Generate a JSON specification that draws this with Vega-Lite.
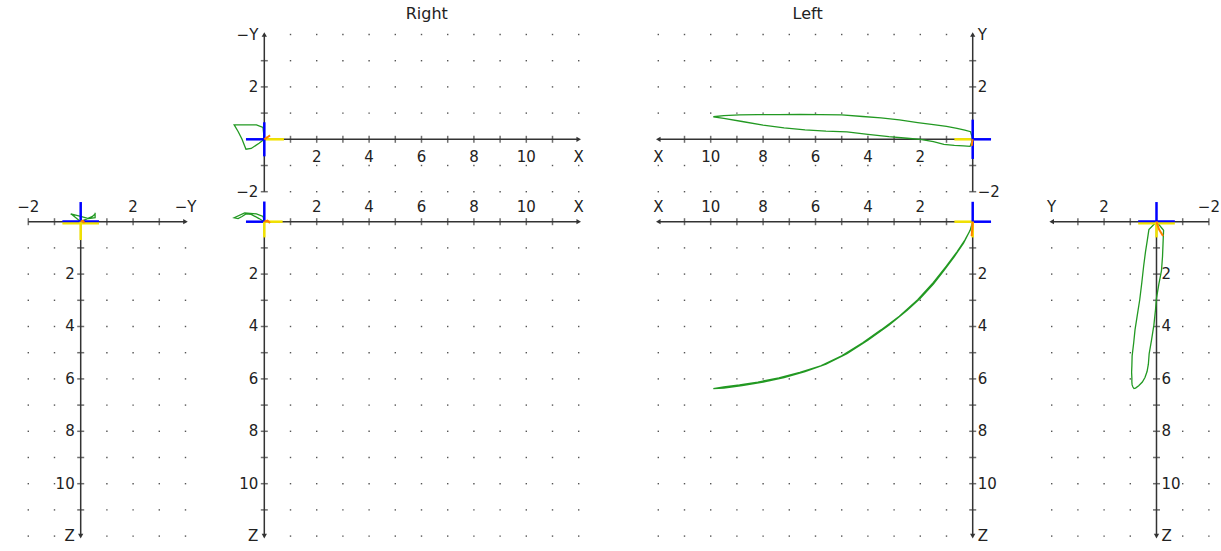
{
  "$schema": "https://vega.github.io/schema/vega-lite/v6.json",
  "width": 1221,
  "height": 551,
  "autosize": {"type": "none"},
  "padding": 0,
  "background": "white",
  "config": {
    "view": {"stroke": null},
    "axis": {"disable": true},
    "text": {"font": "DejaVu Sans", "fontSize": 15, "fill": "#222", "baseline": "middle"},
    "rule": {"color": "#333", "strokeWidth": 1.5},
    "tick": {"color": "#333", "thickness": 1.5, "size": 7},
    "square": {"size": 2, "color": "#555", "opacity": 1},
    "line": {"strokeWidth": 1.3}
  },
  "datasets": {
    "t12": [{"t":1},{"t":2},{"t":3},{"t":4},{"t":5},{"t":6},{"t":7},{"t":8},{"t":9},{"t":10},{"t":11}],
    "l12": [{"t":2},{"t":4},{"t":6},{"t":8},{"t":10}],
    "tS": [{"t":-2},{"t":-1},{"t":1},{"t":2},{"t":3}],
    "lS": [{"t":-2},{"t":2}],
    "left": [
      {"i":0,"x":0,"y":0,"z":0},
      {"i":1,"x":0.08,"y":0.29,"z":0.3},
      {"i":2,"x":0.3,"y":0.35,"z":0.7},
      {"i":3,"x":0.6,"y":0.42,"z":1.15},
      {"i":4,"x":1.0,"y":0.49,"z":1.69},
      {"i":5,"x":1.5,"y":0.56,"z":2.32},
      {"i":6,"x":2.1,"y":0.64,"z":2.98},
      {"i":7,"x":2.8,"y":0.74,"z":3.61},
      {"i":8,"x":3.5,"y":0.82,"z":4.13},
      {"i":9,"x":4.2,"y":0.87,"z":4.62},
      {"i":10,"x":5.0,"y":0.93,"z":5.12},
      {"i":11,"x":5.8,"y":0.94,"z":5.5},
      {"i":12,"x":6.6,"y":0.95,"z":5.75},
      {"i":13,"x":7.4,"y":0.94,"z":5.96},
      {"i":14,"x":8.2,"y":0.94,"z":6.12},
      {"i":15,"x":8.9,"y":0.93,"z":6.23},
      {"i":16,"x":9.5,"y":0.9,"z":6.31},
      {"i":17,"x":9.9,"y":0.86,"z":6.37},
      {"i":18,"x":9.5,"y":0.8,"z":6.35},
      {"i":19,"x":8.8,"y":0.68,"z":6.26},
      {"i":20,"x":8.0,"y":0.54,"z":6.12},
      {"i":21,"x":7.2,"y":0.44,"z":5.95},
      {"i":22,"x":6.4,"y":0.36,"z":5.72},
      {"i":23,"x":5.6,"y":0.31,"z":5.44},
      {"i":24,"x":4.8,"y":0.28,"z":5.04},
      {"i":25,"x":4.0,"y":0.19,"z":4.52},
      {"i":26,"x":3.2,"y":0.1,"z":3.95},
      {"i":27,"x":2.5,"y":0.04,"z":3.38},
      {"i":28,"x":2.0,"y":0.0,"z":2.92},
      {"i":29,"x":1.5,"y":-0.09,"z":2.38},
      {"i":30,"x":1.1,"y":-0.19,"z":1.87},
      {"i":31,"x":0.7,"y":-0.23,"z":1.33},
      {"i":32,"x":0.35,"y":-0.25,"z":0.82},
      {"i":33,"x":0.1,"y":-0.27,"z":0.33},
      {"i":34,"x":0,"y":0,"z":0}
    ],
    "leftT": [
      {"i":0,"x":0,"y":0,"z":0},
      {"i":1,"x":0.02,"y":-0.1,"z":0.3},
      {"i":2,"x":0.04,"y":-0.25,"z":0.55}
    ],
    "right": [
      {"i":0,"x":0,"my":0,"z":0},
      {"i":1,"x":-0.05,"my":0.45,"z":-0.2},
      {"i":2,"x":-0.3,"my":0.55,"z":-0.3},
      {"i":3,"x":-0.75,"my":0.55,"z":-0.34},
      {"i":4,"x":-1.15,"my":0.55,"z":-0.15},
      {"i":5,"x":-1.0,"my":0.3,"z":-0.12},
      {"i":6,"x":-0.85,"my":0.0,"z":-0.2},
      {"i":7,"x":-0.7,"my":-0.38,"z":-0.3},
      {"i":8,"x":-0.5,"my":-0.35,"z":-0.28},
      {"i":9,"x":-0.2,"my":-0.15,"z":-0.12},
      {"i":10,"x":0,"my":0,"z":0}
    ],
    "rightT": [
      {"i":0,"x":0,"my":0,"z":0},
      {"i":1,"x":0.12,"my":0.08,"z":-0.04},
      {"i":2,"x":0.22,"my":0.15,"z":0.05}
    ],
    "gridXY": [
      {"x":1,"y":-2},{"x":1,"y":-1},{"x":1,"y":1},{"x":1,"y":2},{"x":1,"y":3},{"x":1,"y":4},
      {"x":2,"y":-2},{"x":2,"y":-1},{"x":2,"y":1},{"x":2,"y":2},{"x":2,"y":3},{"x":2,"y":4},
      {"x":3,"y":-2},{"x":3,"y":-1},{"x":3,"y":1},{"x":3,"y":2},{"x":3,"y":3},{"x":3,"y":4},
      {"x":4,"y":-2},{"x":4,"y":-1},{"x":4,"y":1},{"x":4,"y":2},{"x":4,"y":3},{"x":4,"y":4},
      {"x":5,"y":-2},{"x":5,"y":-1},{"x":5,"y":1},{"x":5,"y":2},{"x":5,"y":3},{"x":5,"y":4},
      {"x":6,"y":-2},{"x":6,"y":-1},{"x":6,"y":1},{"x":6,"y":2},{"x":6,"y":3},{"x":6,"y":4},
      {"x":7,"y":-2},{"x":7,"y":-1},{"x":7,"y":1},{"x":7,"y":2},{"x":7,"y":3},{"x":7,"y":4},
      {"x":8,"y":-2},{"x":8,"y":-1},{"x":8,"y":1},{"x":8,"y":2},{"x":8,"y":3},{"x":8,"y":4},
      {"x":9,"y":-2},{"x":9,"y":-1},{"x":9,"y":1},{"x":9,"y":2},{"x":9,"y":3},{"x":9,"y":4},
      {"x":10,"y":-2},{"x":10,"y":-1},{"x":10,"y":1},{"x":10,"y":2},{"x":10,"y":3},{"x":10,"y":4},
      {"x":11,"y":-2},{"x":11,"y":-1},{"x":11,"y":1},{"x":11,"y":2},{"x":11,"y":3},{"x":11,"y":4},
      {"x":12,"y":-2},{"x":12,"y":-1},{"x":12,"y":1},{"x":12,"y":2},{"x":12,"y":3},{"x":12,"y":4}
    ],
    "gridYZ": [
      {"a":-2,"z":1},{"a":-2,"z":2},{"a":-2,"z":3},{"a":-2,"z":4},{"a":-2,"z":5},{"a":-2,"z":6},{"a":-2,"z":7},{"a":-2,"z":8},{"a":-2,"z":9},{"a":-2,"z":10},{"a":-2,"z":11},{"a":-2,"z":12},
      {"a":-1,"z":1},{"a":-1,"z":2},{"a":-1,"z":3},{"a":-1,"z":4},{"a":-1,"z":5},{"a":-1,"z":6},{"a":-1,"z":7},{"a":-1,"z":8},{"a":-1,"z":9},{"a":-1,"z":10},{"a":-1,"z":11},{"a":-1,"z":12},
      {"a":1,"z":1},{"a":1,"z":2},{"a":1,"z":3},{"a":1,"z":4},{"a":1,"z":5},{"a":1,"z":6},{"a":1,"z":7},{"a":1,"z":8},{"a":1,"z":9},{"a":1,"z":10},{"a":1,"z":11},{"a":1,"z":12},
      {"a":2,"z":1},{"a":2,"z":2},{"a":2,"z":3},{"a":2,"z":4},{"a":2,"z":5},{"a":2,"z":6},{"a":2,"z":7},{"a":2,"z":8},{"a":2,"z":9},{"a":2,"z":10},{"a":2,"z":11},{"a":2,"z":12},
      {"a":3,"z":1},{"a":3,"z":2},{"a":3,"z":3},{"a":3,"z":4},{"a":3,"z":5},{"a":3,"z":6},{"a":3,"z":7},{"a":3,"z":8},{"a":3,"z":9},{"a":3,"z":10},{"a":3,"z":11},{"a":3,"z":12},
      {"a":4,"z":1},{"a":4,"z":2},{"a":4,"z":3},{"a":4,"z":4},{"a":4,"z":5},{"a":4,"z":6},{"a":4,"z":7},{"a":4,"z":8},{"a":4,"z":9},{"a":4,"z":10},{"a":4,"z":11},{"a":4,"z":12}
    ],
    "gridXZ": [
      {"x":1,"z":1},{"x":1,"z":2},{"x":1,"z":3},{"x":1,"z":4},{"x":1,"z":5},{"x":1,"z":6},{"x":1,"z":7},{"x":1,"z":8},{"x":1,"z":9},{"x":1,"z":10},{"x":1,"z":11},{"x":1,"z":12},
      {"x":2,"z":1},{"x":2,"z":2},{"x":2,"z":3},{"x":2,"z":4},{"x":2,"z":5},{"x":2,"z":6},{"x":2,"z":7},{"x":2,"z":8},{"x":2,"z":9},{"x":2,"z":10},{"x":2,"z":11},{"x":2,"z":12},
      {"x":3,"z":1},{"x":3,"z":2},{"x":3,"z":3},{"x":3,"z":4},{"x":3,"z":5},{"x":3,"z":6},{"x":3,"z":7},{"x":3,"z":8},{"x":3,"z":9},{"x":3,"z":10},{"x":3,"z":11},{"x":3,"z":12},
      {"x":4,"z":1},{"x":4,"z":2},{"x":4,"z":3},{"x":4,"z":4},{"x":4,"z":5},{"x":4,"z":6},{"x":4,"z":7},{"x":4,"z":8},{"x":4,"z":9},{"x":4,"z":10},{"x":4,"z":11},{"x":4,"z":12},
      {"x":5,"z":1},{"x":5,"z":2},{"x":5,"z":3},{"x":5,"z":4},{"x":5,"z":5},{"x":5,"z":6},{"x":5,"z":7},{"x":5,"z":8},{"x":5,"z":9},{"x":5,"z":10},{"x":5,"z":11},{"x":5,"z":12},
      {"x":6,"z":1},{"x":6,"z":2},{"x":6,"z":3},{"x":6,"z":4},{"x":6,"z":5},{"x":6,"z":6},{"x":6,"z":7},{"x":6,"z":8},{"x":6,"z":9},{"x":6,"z":10},{"x":6,"z":11},{"x":6,"z":12},
      {"x":7,"z":1},{"x":7,"z":2},{"x":7,"z":3},{"x":7,"z":4},{"x":7,"z":5},{"x":7,"z":6},{"x":7,"z":7},{"x":7,"z":8},{"x":7,"z":9},{"x":7,"z":10},{"x":7,"z":11},{"x":7,"z":12},
      {"x":8,"z":1},{"x":8,"z":2},{"x":8,"z":3},{"x":8,"z":4},{"x":8,"z":5},{"x":8,"z":6},{"x":8,"z":7},{"x":8,"z":8},{"x":8,"z":9},{"x":8,"z":10},{"x":8,"z":11},{"x":8,"z":12},
      {"x":9,"z":1},{"x":9,"z":2},{"x":9,"z":3},{"x":9,"z":4},{"x":9,"z":5},{"x":9,"z":6},{"x":9,"z":7},{"x":9,"z":8},{"x":9,"z":9},{"x":9,"z":10},{"x":9,"z":11},{"x":9,"z":12},
      {"x":10,"z":1},{"x":10,"z":2},{"x":10,"z":3},{"x":10,"z":4},{"x":10,"z":5},{"x":10,"z":6},{"x":10,"z":7},{"x":10,"z":8},{"x":10,"z":9},{"x":10,"z":10},{"x":10,"z":11},{"x":10,"z":12},
      {"x":11,"z":1},{"x":11,"z":2},{"x":11,"z":3},{"x":11,"z":4},{"x":11,"z":5},{"x":11,"z":6},{"x":11,"z":7},{"x":11,"z":8},{"x":11,"z":9},{"x":11,"z":10},{"x":11,"z":11},{"x":11,"z":12},
      {"x":12,"z":1},{"x":12,"z":2},{"x":12,"z":3},{"x":12,"z":4},{"x":12,"z":5},{"x":12,"z":6},{"x":12,"z":7},{"x":12,"z":8},{"x":12,"z":9},{"x":12,"z":10},{"x":12,"z":11},{"x":12,"z":12}
    ]
  },
  "data": {"values": [{}]},
  "resolve": {"scale": {"x": "independent", "y": "independent"}},
  "layer": [
    {
      "layer": [
        {"data": {"name": "gridYZ"}, "mark": {"type": "square"},
         "encoding": {"x": {"field": "a", "type": "quantitative", "scale": {"domain": [-3.08, 43.523], "nice": false, "zero": false}},
                      "y": {"field": "z", "type": "quantitative", "scale": {"domain": [-8.462, 12.569], "reverse": true, "nice": false, "zero": false}}}},
        {"mark": "rule",
         "encoding": {"x": {"datum": -2, "type": "quantitative", "scale": {"domain": [-3.08, 43.523], "nice": false, "zero": false}}, "x2": {"datum": 4},
                      "y": {"datum": 0, "type": "quantitative", "scale": {"domain": [-8.462, 12.569], "reverse": true, "nice": false, "zero": false}}}},
        {"mark": "rule",
         "encoding": {"x": {"datum": 0, "type": "quantitative", "scale": {"domain": [-3.08, 43.523], "nice": false, "zero": false}},
                      "y": {"datum": 0, "type": "quantitative", "scale": {"domain": [-8.462, 12.569], "reverse": true, "nice": false, "zero": false}}, "y2": {"datum": 12}}},
        {"data": {"name": "tS"}, "mark": {"type": "tick", "orient": "vertical"},
         "encoding": {"x": {"field": "t", "type": "quantitative", "scale": {"domain": [-3.08, 43.523], "nice": false, "zero": false}},
                      "y": {"datum": 0, "type": "quantitative", "scale": {"domain": [-8.462, 12.569], "reverse": true, "nice": false, "zero": false}}}},
        {"data": {"name": "t12"}, "mark": {"type": "tick", "orient": "horizontal"},
         "encoding": {"x": {"datum": 0, "type": "quantitative", "scale": {"domain": [-3.08, 43.523], "nice": false, "zero": false}},
                      "y": {"field": "t", "type": "quantitative", "scale": {"domain": [-8.462, 12.569], "reverse": true, "nice": false, "zero": false}}}},
        {"data": {"name": "lS"}, "mark": {"type": "text", "dy": -15},
         "encoding": {"x": {"field": "t", "type": "quantitative", "scale": {"domain": [-3.08, 43.523], "nice": false, "zero": false}},
                      "y": {"datum": 0, "type": "quantitative", "scale": {"domain": [-8.462, 12.569], "reverse": true, "nice": false, "zero": false}},
                      "text": {"field": "t", "type": "quantitative", "format": "d"}}},
        {"data": {"name": "l12"}, "mark": {"type": "text", "align": "right", "dx": -6},
         "encoding": {"x": {"datum": 0, "type": "quantitative", "scale": {"domain": [-3.08, 43.523], "nice": false, "zero": false}},
                      "y": {"field": "t", "type": "quantitative", "scale": {"domain": [-8.462, 12.569], "reverse": true, "nice": false, "zero": false}},
                      "text": {"field": "t", "type": "quantitative", "format": "d"}}},
        {"mark": {"type": "point", "shape": "triangle-right", "size": 28, "filled": true, "color": "#333", "opacity": 1},
         "encoding": {"x": {"datum": 4, "type": "quantitative", "scale": {"domain": [-3.08, 43.523], "nice": false, "zero": false}},
                      "y": {"datum": 0, "type": "quantitative", "scale": {"domain": [-8.462, 12.569], "reverse": true, "nice": false, "zero": false}}}},
        {"mark": {"type": "point", "shape": "triangle-down", "size": 28, "filled": true, "color": "#333", "opacity": 1},
         "encoding": {"x": {"datum": 0, "type": "quantitative", "scale": {"domain": [-3.08, 43.523], "nice": false, "zero": false}},
                      "y": {"datum": 12, "type": "quantitative", "scale": {"domain": [-8.462, 12.569], "reverse": true, "nice": false, "zero": false}}}},
        {"mark": {"type": "text", "dy": -15},
         "encoding": {"x": {"datum": 4, "type": "quantitative", "scale": {"domain": [-3.08, 43.523], "nice": false, "zero": false}},
                      "y": {"datum": 0, "type": "quantitative", "scale": {"domain": [-8.462, 12.569], "reverse": true, "nice": false, "zero": false}},
                      "text": {"value": "−Y"}}},
        {"mark": {"type": "text", "align": "right", "dx": -6},
         "encoding": {"x": {"datum": 0, "type": "quantitative", "scale": {"domain": [-3.08, 43.523], "nice": false, "zero": false}},
                      "y": {"datum": 12, "type": "quantitative", "scale": {"domain": [-8.462, 12.569], "reverse": true, "nice": false, "zero": false}},
                      "text": {"value": "Z"}}},
        {"data": {"name": "right"}, "mark": {"type": "line", "color": "#229922"},
         "encoding": {"x": {"field": "my", "type": "quantitative", "scale": {"domain": [-3.08, 43.523], "nice": false, "zero": false}},
                      "y": {"field": "z", "type": "quantitative", "scale": {"domain": [-8.462, 12.569], "reverse": true, "nice": false, "zero": false}},
                      "order": {"field": "i", "type": "quantitative"}}},
        {"mark": {"type": "rule", "color": "#f2e200", "strokeWidth": 2.5, "yOffset": 1.5},
         "encoding": {"x": {"datum": -0.7, "type": "quantitative", "scale": {"domain": [-3.08, 43.523], "nice": false, "zero": false}}, "x2": {"datum": 0.7},
                      "y": {"datum": 0, "type": "quantitative", "scale": {"domain": [-8.462, 12.569], "reverse": true, "nice": false, "zero": false}}}},
        {"mark": {"type": "rule", "color": "#0000ff", "strokeWidth": 2, "yOffset": -0.5},
         "encoding": {"x": {"datum": -0.7, "type": "quantitative", "scale": {"domain": [-3.08, 43.523], "nice": false, "zero": false}}, "x2": {"datum": 0.7},
                      "y": {"datum": 0, "type": "quantitative", "scale": {"domain": [-8.462, 12.569], "reverse": true, "nice": false, "zero": false}}}},
        {"mark": {"type": "rule", "color": "#0000ff", "strokeWidth": 2.5},
         "encoding": {"x": {"datum": 0, "type": "quantitative", "scale": {"domain": [-3.08, 43.523], "nice": false, "zero": false}},
                      "y": {"datum": -0.75, "type": "quantitative", "scale": {"domain": [-8.462, 12.569], "reverse": true, "nice": false, "zero": false}}, "y2": {"datum": 0}}},
        {"mark": {"type": "rule", "color": "#f2e200", "strokeWidth": 2.5},
         "encoding": {"x": {"datum": 0, "type": "quantitative", "scale": {"domain": [-3.08, 43.523], "nice": false, "zero": false}},
                      "y": {"datum": 0, "type": "quantitative", "scale": {"domain": [-8.462, 12.569], "reverse": true, "nice": false, "zero": false}}, "y2": {"datum": 0.7}}},
        {"data": {"name": "rightT"}, "mark": {"type": "line", "color": "#ff8000", "strokeWidth": 2},
         "encoding": {"x": {"field": "my", "type": "quantitative", "scale": {"domain": [-3.08, 43.523], "nice": false, "zero": false}},
                      "y": {"field": "z", "type": "quantitative", "scale": {"domain": [-8.462, 12.569], "reverse": true, "nice": false, "zero": false}},
                      "order": {"field": "i", "type": "quantitative"}}}
      ]
    },
    {
      "layer": [
        {"data": {"name": "gridXY"}, "mark": {"type": "square"},
         "encoding": {"x": {"field": "x", "type": "quantitative", "scale": {"domain": [-10.088, 36.515], "nice": false, "zero": false}},
                      "y": {"field": "y", "type": "quantitative", "scale": {"domain": [-15.714, 5.317], "nice": false, "zero": false}}}},
        {"mark": "rule",
         "encoding": {"x": {"datum": 0, "type": "quantitative", "scale": {"domain": [-10.088, 36.515], "nice": false, "zero": false}}, "x2": {"datum": 12},
                      "y": {"datum": 0, "type": "quantitative", "scale": {"domain": [-15.714, 5.317], "nice": false, "zero": false}}}},
        {"mark": "rule",
         "encoding": {"x": {"datum": 0, "type": "quantitative", "scale": {"domain": [-10.088, 36.515], "nice": false, "zero": false}},
                      "y": {"datum": -2, "type": "quantitative", "scale": {"domain": [-15.714, 5.317], "nice": false, "zero": false}}, "y2": {"datum": 4}}},
        {"data": {"name": "t12"}, "mark": {"type": "tick", "orient": "vertical"},
         "encoding": {"x": {"field": "t", "type": "quantitative", "scale": {"domain": [-10.088, 36.515], "nice": false, "zero": false}},
                      "y": {"datum": 0, "type": "quantitative", "scale": {"domain": [-15.714, 5.317], "nice": false, "zero": false}}}},
        {"data": {"name": "tS"}, "mark": {"type": "tick", "orient": "horizontal"},
         "encoding": {"x": {"datum": 0, "type": "quantitative", "scale": {"domain": [-10.088, 36.515], "nice": false, "zero": false}},
                      "y": {"field": "t", "type": "quantitative", "scale": {"domain": [-15.714, 5.317], "nice": false, "zero": false}}}},
        {"data": {"name": "l12"}, "mark": {"type": "text", "dy": 18},
         "encoding": {"x": {"field": "t", "type": "quantitative", "scale": {"domain": [-10.088, 36.515], "nice": false, "zero": false}},
                      "y": {"datum": 0, "type": "quantitative", "scale": {"domain": [-15.714, 5.317], "nice": false, "zero": false}},
                      "text": {"field": "t", "type": "quantitative", "format": "d"}}},
        {"data": {"name": "lS"}, "mark": {"type": "text", "align": "right", "dx": -6},
         "encoding": {"x": {"datum": 0, "type": "quantitative", "scale": {"domain": [-10.088, 36.515], "nice": false, "zero": false}},
                      "y": {"field": "t", "type": "quantitative", "scale": {"domain": [-15.714, 5.317], "nice": false, "zero": false}},
                      "text": {"field": "t", "type": "quantitative", "format": "d"}}},
        {"mark": {"type": "point", "shape": "triangle-right", "size": 28, "filled": true, "color": "#333", "opacity": 1},
         "encoding": {"x": {"datum": 12, "type": "quantitative", "scale": {"domain": [-10.088, 36.515], "nice": false, "zero": false}},
                      "y": {"datum": 0, "type": "quantitative", "scale": {"domain": [-15.714, 5.317], "nice": false, "zero": false}}}},
        {"mark": {"type": "point", "shape": "triangle-up", "size": 28, "filled": true, "color": "#333", "opacity": 1},
         "encoding": {"x": {"datum": 0, "type": "quantitative", "scale": {"domain": [-10.088, 36.515], "nice": false, "zero": false}},
                      "y": {"datum": 4, "type": "quantitative", "scale": {"domain": [-15.714, 5.317], "nice": false, "zero": false}}}},
        {"mark": {"type": "text", "dy": 18},
         "encoding": {"x": {"datum": 12, "type": "quantitative", "scale": {"domain": [-10.088, 36.515], "nice": false, "zero": false}},
                      "y": {"datum": 0, "type": "quantitative", "scale": {"domain": [-15.714, 5.317], "nice": false, "zero": false}},
                      "text": {"value": "X"}}},
        {"mark": {"type": "text", "align": "right", "dx": -6},
         "encoding": {"x": {"datum": 0, "type": "quantitative", "scale": {"domain": [-10.088, 36.515], "nice": false, "zero": false}},
                      "y": {"datum": 4, "type": "quantitative", "scale": {"domain": [-15.714, 5.317], "nice": false, "zero": false}},
                      "text": {"value": "−Y"}}},
        {"mark": {"type": "text", "fontSize": 16},
         "encoding": {"x": {"datum": 6.2, "type": "quantitative", "scale": {"domain": [-10.088, 36.515], "nice": false, "zero": false}},
                      "y": {"datum": 4.78, "type": "quantitative", "scale": {"domain": [-15.714, 5.317], "nice": false, "zero": false}},
                      "text": {"value": "Right"}}},
        {"data": {"name": "right"}, "mark": {"type": "line", "color": "#229922"},
         "encoding": {"x": {"field": "x", "type": "quantitative", "scale": {"domain": [-10.088, 36.515], "nice": false, "zero": false}},
                      "y": {"field": "my", "type": "quantitative", "scale": {"domain": [-15.714, 5.317], "nice": false, "zero": false}},
                      "order": {"field": "i", "type": "quantitative"}}},
        {"mark": {"type": "rule", "color": "#f2e200", "strokeWidth": 2.5},
         "encoding": {"x": {"datum": 0, "type": "quantitative", "scale": {"domain": [-10.088, 36.515], "nice": false, "zero": false}}, "x2": {"datum": 0.75},
                      "y": {"datum": 0, "type": "quantitative", "scale": {"domain": [-15.714, 5.317], "nice": false, "zero": false}}}},
        {"mark": {"type": "rule", "color": "#0000ff", "strokeWidth": 2.5},
         "encoding": {"x": {"datum": -0.7, "type": "quantitative", "scale": {"domain": [-10.088, 36.515], "nice": false, "zero": false}}, "x2": {"datum": 0},
                      "y": {"datum": 0, "type": "quantitative", "scale": {"domain": [-15.714, 5.317], "nice": false, "zero": false}}}},
        {"mark": {"type": "rule", "color": "#0000ff", "strokeWidth": 2.5},
         "encoding": {"x": {"datum": 0, "type": "quantitative", "scale": {"domain": [-10.088, 36.515], "nice": false, "zero": false}},
                      "y": {"datum": -0.65, "type": "quantitative", "scale": {"domain": [-15.714, 5.317], "nice": false, "zero": false}}, "y2": {"datum": 0.65}}},
        {"data": {"name": "rightT"}, "mark": {"type": "line", "color": "#ff8000", "strokeWidth": 2},
         "encoding": {"x": {"field": "x", "type": "quantitative", "scale": {"domain": [-10.088, 36.515], "nice": false, "zero": false}},
                      "y": {"field": "my", "type": "quantitative", "scale": {"domain": [-15.714, 5.317], "nice": false, "zero": false}},
                      "order": {"field": "i", "type": "quantitative"}}}
      ]
    },
    {
      "layer": [
        {"data": {"name": "gridXZ"}, "mark": {"type": "square"},
         "encoding": {"x": {"field": "x", "type": "quantitative", "scale": {"domain": [-10.088, 36.515], "nice": false, "zero": false}},
                      "y": {"field": "z", "type": "quantitative", "scale": {"domain": [-8.462, 12.569], "reverse": true, "nice": false, "zero": false}}}},
        {"mark": "rule",
         "encoding": {"x": {"datum": 0, "type": "quantitative", "scale": {"domain": [-10.088, 36.515], "nice": false, "zero": false}}, "x2": {"datum": 12},
                      "y": {"datum": 0, "type": "quantitative", "scale": {"domain": [-8.462, 12.569], "reverse": true, "nice": false, "zero": false}}}},
        {"mark": "rule",
         "encoding": {"x": {"datum": 0, "type": "quantitative", "scale": {"domain": [-10.088, 36.515], "nice": false, "zero": false}},
                      "y": {"datum": 0, "type": "quantitative", "scale": {"domain": [-8.462, 12.569], "reverse": true, "nice": false, "zero": false}}, "y2": {"datum": 12}}},
        {"data": {"name": "t12"}, "mark": {"type": "tick", "orient": "vertical"},
         "encoding": {"x": {"field": "t", "type": "quantitative", "scale": {"domain": [-10.088, 36.515], "nice": false, "zero": false}},
                      "y": {"datum": 0, "type": "quantitative", "scale": {"domain": [-8.462, 12.569], "reverse": true, "nice": false, "zero": false}}}},
        {"data": {"name": "t12"}, "mark": {"type": "tick", "orient": "horizontal"},
         "encoding": {"x": {"datum": 0, "type": "quantitative", "scale": {"domain": [-10.088, 36.515], "nice": false, "zero": false}},
                      "y": {"field": "t", "type": "quantitative", "scale": {"domain": [-8.462, 12.569], "reverse": true, "nice": false, "zero": false}}}},
        {"data": {"name": "l12"}, "mark": {"type": "text", "dy": -15},
         "encoding": {"x": {"field": "t", "type": "quantitative", "scale": {"domain": [-10.088, 36.515], "nice": false, "zero": false}},
                      "y": {"datum": 0, "type": "quantitative", "scale": {"domain": [-8.462, 12.569], "reverse": true, "nice": false, "zero": false}},
                      "text": {"field": "t", "type": "quantitative", "format": "d"}}},
        {"data": {"name": "l12"}, "mark": {"type": "text", "align": "right", "dx": -6},
         "encoding": {"x": {"datum": 0, "type": "quantitative", "scale": {"domain": [-10.088, 36.515], "nice": false, "zero": false}},
                      "y": {"field": "t", "type": "quantitative", "scale": {"domain": [-8.462, 12.569], "reverse": true, "nice": false, "zero": false}},
                      "text": {"field": "t", "type": "quantitative", "format": "d"}}},
        {"mark": {"type": "point", "shape": "triangle-right", "size": 28, "filled": true, "color": "#333", "opacity": 1},
         "encoding": {"x": {"datum": 12, "type": "quantitative", "scale": {"domain": [-10.088, 36.515], "nice": false, "zero": false}},
                      "y": {"datum": 0, "type": "quantitative", "scale": {"domain": [-8.462, 12.569], "reverse": true, "nice": false, "zero": false}}}},
        {"mark": {"type": "point", "shape": "triangle-down", "size": 28, "filled": true, "color": "#333", "opacity": 1},
         "encoding": {"x": {"datum": 0, "type": "quantitative", "scale": {"domain": [-10.088, 36.515], "nice": false, "zero": false}},
                      "y": {"datum": 12, "type": "quantitative", "scale": {"domain": [-8.462, 12.569], "reverse": true, "nice": false, "zero": false}}}},
        {"mark": {"type": "text", "dy": -15},
         "encoding": {"x": {"datum": 12, "type": "quantitative", "scale": {"domain": [-10.088, 36.515], "nice": false, "zero": false}},
                      "y": {"datum": 0, "type": "quantitative", "scale": {"domain": [-8.462, 12.569], "reverse": true, "nice": false, "zero": false}},
                      "text": {"value": "X"}}},
        {"mark": {"type": "text", "align": "right", "dx": -6},
         "encoding": {"x": {"datum": 0, "type": "quantitative", "scale": {"domain": [-10.088, 36.515], "nice": false, "zero": false}},
                      "y": {"datum": 12, "type": "quantitative", "scale": {"domain": [-8.462, 12.569], "reverse": true, "nice": false, "zero": false}},
                      "text": {"value": "Z"}}},
        {"data": {"name": "right"}, "mark": {"type": "line", "color": "#229922"},
         "encoding": {"x": {"field": "x", "type": "quantitative", "scale": {"domain": [-10.088, 36.515], "nice": false, "zero": false}},
                      "y": {"field": "z", "type": "quantitative", "scale": {"domain": [-8.462, 12.569], "reverse": true, "nice": false, "zero": false}},
                      "order": {"field": "i", "type": "quantitative"}}},
        {"mark": {"type": "rule", "color": "#f2e200", "strokeWidth": 2.5},
         "encoding": {"x": {"datum": 0, "type": "quantitative", "scale": {"domain": [-10.088, 36.515], "nice": false, "zero": false}}, "x2": {"datum": 0.7},
                      "y": {"datum": 0, "type": "quantitative", "scale": {"domain": [-8.462, 12.569], "reverse": true, "nice": false, "zero": false}}}},
        {"mark": {"type": "rule", "color": "#0000ff", "strokeWidth": 2.5},
         "encoding": {"x": {"datum": -0.7, "type": "quantitative", "scale": {"domain": [-10.088, 36.515], "nice": false, "zero": false}}, "x2": {"datum": 0},
                      "y": {"datum": 0, "type": "quantitative", "scale": {"domain": [-8.462, 12.569], "reverse": true, "nice": false, "zero": false}}}},
        {"mark": {"type": "rule", "color": "#0000ff", "strokeWidth": 2.5},
         "encoding": {"x": {"datum": 0, "type": "quantitative", "scale": {"domain": [-10.088, 36.515], "nice": false, "zero": false}},
                      "y": {"datum": -0.77, "type": "quantitative", "scale": {"domain": [-8.462, 12.569], "reverse": true, "nice": false, "zero": false}}, "y2": {"datum": 0}}},
        {"mark": {"type": "rule", "color": "#f2e200", "strokeWidth": 2.5},
         "encoding": {"x": {"datum": 0, "type": "quantitative", "scale": {"domain": [-10.088, 36.515], "nice": false, "zero": false}},
                      "y": {"datum": 0, "type": "quantitative", "scale": {"domain": [-8.462, 12.569], "reverse": true, "nice": false, "zero": false}}, "y2": {"datum": 0.6}}},
        {"data": {"name": "rightT"}, "mark": {"type": "line", "color": "#ff8000", "strokeWidth": 2},
         "encoding": {"x": {"field": "x", "type": "quantitative", "scale": {"domain": [-10.088, 36.515], "nice": false, "zero": false}},
                      "y": {"field": "z", "type": "quantitative", "scale": {"domain": [-8.462, 12.569], "reverse": true, "nice": false, "zero": false}},
                      "order": {"field": "i", "type": "quantitative"}}}
      ]
    },
    {
      "layer": [
        {"data": {"name": "gridXY"}, "mark": {"type": "square"},
         "encoding": {"x": {"field": "x", "type": "quantitative", "scale": {"domain": [-9.477, 37.126], "reverse": true, "nice": false, "zero": false}},
                      "y": {"field": "y", "type": "quantitative", "scale": {"domain": [-15.714, 5.317], "nice": false, "zero": false}}}},
        {"mark": "rule",
         "encoding": {"x": {"datum": 0, "type": "quantitative", "scale": {"domain": [-9.477, 37.126], "reverse": true, "nice": false, "zero": false}}, "x2": {"datum": 12},
                      "y": {"datum": 0, "type": "quantitative", "scale": {"domain": [-15.714, 5.317], "nice": false, "zero": false}}}},
        {"mark": "rule",
         "encoding": {"x": {"datum": 0, "type": "quantitative", "scale": {"domain": [-9.477, 37.126], "reverse": true, "nice": false, "zero": false}},
                      "y": {"datum": -2, "type": "quantitative", "scale": {"domain": [-15.714, 5.317], "nice": false, "zero": false}}, "y2": {"datum": 4}}},
        {"data": {"name": "t12"}, "mark": {"type": "tick", "orient": "vertical"},
         "encoding": {"x": {"field": "t", "type": "quantitative", "scale": {"domain": [-9.477, 37.126], "reverse": true, "nice": false, "zero": false}},
                      "y": {"datum": 0, "type": "quantitative", "scale": {"domain": [-15.714, 5.317], "nice": false, "zero": false}}}},
        {"data": {"name": "tS"}, "mark": {"type": "tick", "orient": "horizontal"},
         "encoding": {"x": {"datum": 0, "type": "quantitative", "scale": {"domain": [-9.477, 37.126], "reverse": true, "nice": false, "zero": false}},
                      "y": {"field": "t", "type": "quantitative", "scale": {"domain": [-15.714, 5.317], "nice": false, "zero": false}}}},
        {"data": {"name": "l12"}, "mark": {"type": "text", "dy": 18},
         "encoding": {"x": {"field": "t", "type": "quantitative", "scale": {"domain": [-9.477, 37.126], "reverse": true, "nice": false, "zero": false}},
                      "y": {"datum": 0, "type": "quantitative", "scale": {"domain": [-15.714, 5.317], "nice": false, "zero": false}},
                      "text": {"field": "t", "type": "quantitative", "format": "d"}}},
        {"data": {"name": "lS"}, "mark": {"type": "text", "align": "left", "dx": 5},
         "encoding": {"x": {"datum": 0, "type": "quantitative", "scale": {"domain": [-9.477, 37.126], "reverse": true, "nice": false, "zero": false}},
                      "y": {"field": "t", "type": "quantitative", "scale": {"domain": [-15.714, 5.317], "nice": false, "zero": false}},
                      "text": {"field": "t", "type": "quantitative", "format": "d"}}},
        {"mark": {"type": "point", "shape": "triangle-left", "size": 28, "filled": true, "color": "#333", "opacity": 1},
         "encoding": {"x": {"datum": 12, "type": "quantitative", "scale": {"domain": [-9.477, 37.126], "reverse": true, "nice": false, "zero": false}},
                      "y": {"datum": 0, "type": "quantitative", "scale": {"domain": [-15.714, 5.317], "nice": false, "zero": false}}}},
        {"mark": {"type": "point", "shape": "triangle-up", "size": 28, "filled": true, "color": "#333", "opacity": 1},
         "encoding": {"x": {"datum": 0, "type": "quantitative", "scale": {"domain": [-9.477, 37.126], "reverse": true, "nice": false, "zero": false}},
                      "y": {"datum": 4, "type": "quantitative", "scale": {"domain": [-15.714, 5.317], "nice": false, "zero": false}}}},
        {"mark": {"type": "text", "dy": 18},
         "encoding": {"x": {"datum": 12, "type": "quantitative", "scale": {"domain": [-9.477, 37.126], "reverse": true, "nice": false, "zero": false}},
                      "y": {"datum": 0, "type": "quantitative", "scale": {"domain": [-15.714, 5.317], "nice": false, "zero": false}},
                      "text": {"value": "X"}}},
        {"mark": {"type": "text", "align": "left", "dx": 5},
         "encoding": {"x": {"datum": 0, "type": "quantitative", "scale": {"domain": [-9.477, 37.126], "reverse": true, "nice": false, "zero": false}},
                      "y": {"datum": 4, "type": "quantitative", "scale": {"domain": [-15.714, 5.317], "nice": false, "zero": false}},
                      "text": {"value": "Y"}}},
        {"mark": {"type": "text", "fontSize": 16},
         "encoding": {"x": {"datum": 6.3, "type": "quantitative", "scale": {"domain": [-9.477, 37.126], "reverse": true, "nice": false, "zero": false}},
                      "y": {"datum": 4.8, "type": "quantitative", "scale": {"domain": [-15.714, 5.317], "nice": false, "zero": false}},
                      "text": {"value": "Left"}}},
        {"data": {"name": "left"}, "mark": {"type": "line", "color": "#229922"},
         "encoding": {"x": {"field": "x", "type": "quantitative", "scale": {"domain": [-9.477, 37.126], "reverse": true, "nice": false, "zero": false}},
                      "y": {"field": "y", "type": "quantitative", "scale": {"domain": [-15.714, 5.317], "nice": false, "zero": false}},
                      "order": {"field": "i", "type": "quantitative"}}},
        {"mark": {"type": "rule", "color": "#f2e200", "strokeWidth": 2.5},
         "encoding": {"x": {"datum": 0, "type": "quantitative", "scale": {"domain": [-9.477, 37.126], "reverse": true, "nice": false, "zero": false}}, "x2": {"datum": 0.7},
                      "y": {"datum": 0, "type": "quantitative", "scale": {"domain": [-15.714, 5.317], "nice": false, "zero": false}}}},
        {"mark": {"type": "rule", "color": "#0000ff", "strokeWidth": 2.5},
         "encoding": {"x": {"datum": -0.7, "type": "quantitative", "scale": {"domain": [-9.477, 37.126], "reverse": true, "nice": false, "zero": false}}, "x2": {"datum": 0},
                      "y": {"datum": 0, "type": "quantitative", "scale": {"domain": [-15.714, 5.317], "nice": false, "zero": false}}}},
        {"mark": {"type": "rule", "color": "#0000ff", "strokeWidth": 2.5},
         "encoding": {"x": {"datum": 0, "type": "quantitative", "scale": {"domain": [-9.477, 37.126], "reverse": true, "nice": false, "zero": false}},
                      "y": {"datum": -0.75, "type": "quantitative", "scale": {"domain": [-15.714, 5.317], "nice": false, "zero": false}}, "y2": {"datum": 0.75}}},
        {"data": {"name": "leftT"}, "mark": {"type": "line", "color": "#ff8000", "strokeWidth": 2},
         "encoding": {"x": {"field": "x", "type": "quantitative", "scale": {"domain": [-9.477, 37.126], "reverse": true, "nice": false, "zero": false}},
                      "y": {"field": "y", "type": "quantitative", "scale": {"domain": [-15.714, 5.317], "nice": false, "zero": false}},
                      "order": {"field": "i", "type": "quantitative"}}}
      ]
    },
    {
      "layer": [
        {"data": {"name": "gridXZ"}, "mark": {"type": "square"},
         "encoding": {"x": {"field": "x", "type": "quantitative", "scale": {"domain": [-9.477, 37.126], "reverse": true, "nice": false, "zero": false}},
                      "y": {"field": "z", "type": "quantitative", "scale": {"domain": [-8.462, 12.569], "reverse": true, "nice": false, "zero": false}}}},
        {"mark": "rule",
         "encoding": {"x": {"datum": 0, "type": "quantitative", "scale": {"domain": [-9.477, 37.126], "reverse": true, "nice": false, "zero": false}}, "x2": {"datum": 12},
                      "y": {"datum": 0, "type": "quantitative", "scale": {"domain": [-8.462, 12.569], "reverse": true, "nice": false, "zero": false}}}},
        {"mark": "rule",
         "encoding": {"x": {"datum": 0, "type": "quantitative", "scale": {"domain": [-9.477, 37.126], "reverse": true, "nice": false, "zero": false}},
                      "y": {"datum": 0, "type": "quantitative", "scale": {"domain": [-8.462, 12.569], "reverse": true, "nice": false, "zero": false}}, "y2": {"datum": 12}}},
        {"data": {"name": "t12"}, "mark": {"type": "tick", "orient": "vertical"},
         "encoding": {"x": {"field": "t", "type": "quantitative", "scale": {"domain": [-9.477, 37.126], "reverse": true, "nice": false, "zero": false}},
                      "y": {"datum": 0, "type": "quantitative", "scale": {"domain": [-8.462, 12.569], "reverse": true, "nice": false, "zero": false}}}},
        {"data": {"name": "t12"}, "mark": {"type": "tick", "orient": "horizontal"},
         "encoding": {"x": {"datum": 0, "type": "quantitative", "scale": {"domain": [-9.477, 37.126], "reverse": true, "nice": false, "zero": false}},
                      "y": {"field": "t", "type": "quantitative", "scale": {"domain": [-8.462, 12.569], "reverse": true, "nice": false, "zero": false}}}},
        {"data": {"name": "l12"}, "mark": {"type": "text", "dy": -15},
         "encoding": {"x": {"field": "t", "type": "quantitative", "scale": {"domain": [-9.477, 37.126], "reverse": true, "nice": false, "zero": false}},
                      "y": {"datum": 0, "type": "quantitative", "scale": {"domain": [-8.462, 12.569], "reverse": true, "nice": false, "zero": false}},
                      "text": {"field": "t", "type": "quantitative", "format": "d"}}},
        {"data": {"name": "l12"}, "mark": {"type": "text", "align": "left", "dx": 5},
         "encoding": {"x": {"datum": 0, "type": "quantitative", "scale": {"domain": [-9.477, 37.126], "reverse": true, "nice": false, "zero": false}},
                      "y": {"field": "t", "type": "quantitative", "scale": {"domain": [-8.462, 12.569], "reverse": true, "nice": false, "zero": false}},
                      "text": {"field": "t", "type": "quantitative", "format": "d"}}},
        {"mark": {"type": "point", "shape": "triangle-left", "size": 28, "filled": true, "color": "#333", "opacity": 1},
         "encoding": {"x": {"datum": 12, "type": "quantitative", "scale": {"domain": [-9.477, 37.126], "reverse": true, "nice": false, "zero": false}},
                      "y": {"datum": 0, "type": "quantitative", "scale": {"domain": [-8.462, 12.569], "reverse": true, "nice": false, "zero": false}}}},
        {"mark": {"type": "point", "shape": "triangle-down", "size": 28, "filled": true, "color": "#333", "opacity": 1},
         "encoding": {"x": {"datum": 0, "type": "quantitative", "scale": {"domain": [-9.477, 37.126], "reverse": true, "nice": false, "zero": false}},
                      "y": {"datum": 12, "type": "quantitative", "scale": {"domain": [-8.462, 12.569], "reverse": true, "nice": false, "zero": false}}}},
        {"mark": {"type": "text", "dy": -15},
         "encoding": {"x": {"datum": 12, "type": "quantitative", "scale": {"domain": [-9.477, 37.126], "reverse": true, "nice": false, "zero": false}},
                      "y": {"datum": 0, "type": "quantitative", "scale": {"domain": [-8.462, 12.569], "reverse": true, "nice": false, "zero": false}},
                      "text": {"value": "X"}}},
        {"mark": {"type": "text", "align": "left", "dx": 5},
         "encoding": {"x": {"datum": 0, "type": "quantitative", "scale": {"domain": [-9.477, 37.126], "reverse": true, "nice": false, "zero": false}},
                      "y": {"datum": 12, "type": "quantitative", "scale": {"domain": [-8.462, 12.569], "reverse": true, "nice": false, "zero": false}},
                      "text": {"value": "Z"}}},
        {"data": {"name": "left"}, "mark": {"type": "line", "color": "#229922"},
         "encoding": {"x": {"field": "x", "type": "quantitative", "scale": {"domain": [-9.477, 37.126], "reverse": true, "nice": false, "zero": false}},
                      "y": {"field": "z", "type": "quantitative", "scale": {"domain": [-8.462, 12.569], "reverse": true, "nice": false, "zero": false}},
                      "order": {"field": "i", "type": "quantitative"}}},
        {"mark": {"type": "rule", "color": "#f2e200", "strokeWidth": 2.5},
         "encoding": {"x": {"datum": 0, "type": "quantitative", "scale": {"domain": [-9.477, 37.126], "reverse": true, "nice": false, "zero": false}}, "x2": {"datum": 0.7},
                      "y": {"datum": 0, "type": "quantitative", "scale": {"domain": [-8.462, 12.569], "reverse": true, "nice": false, "zero": false}}}},
        {"mark": {"type": "rule", "color": "#0000ff", "strokeWidth": 2.5},
         "encoding": {"x": {"datum": -0.7, "type": "quantitative", "scale": {"domain": [-9.477, 37.126], "reverse": true, "nice": false, "zero": false}}, "x2": {"datum": 0},
                      "y": {"datum": 0, "type": "quantitative", "scale": {"domain": [-8.462, 12.569], "reverse": true, "nice": false, "zero": false}}}},
        {"mark": {"type": "rule", "color": "#0000ff", "strokeWidth": 2.5},
         "encoding": {"x": {"datum": 0, "type": "quantitative", "scale": {"domain": [-9.477, 37.126], "reverse": true, "nice": false, "zero": false}},
                      "y": {"datum": -0.76, "type": "quantitative", "scale": {"domain": [-8.462, 12.569], "reverse": true, "nice": false, "zero": false}}, "y2": {"datum": 0}}},
        {"mark": {"type": "rule", "color": "#f2e200", "strokeWidth": 2.5},
         "encoding": {"x": {"datum": 0, "type": "quantitative", "scale": {"domain": [-9.477, 37.126], "reverse": true, "nice": false, "zero": false}},
                      "y": {"datum": 0, "type": "quantitative", "scale": {"domain": [-8.462, 12.569], "reverse": true, "nice": false, "zero": false}}, "y2": {"datum": 0.6}}},
        {"data": {"name": "leftT"}, "mark": {"type": "line", "color": "#ff8000", "strokeWidth": 2},
         "encoding": {"x": {"field": "x", "type": "quantitative", "scale": {"domain": [-9.477, 37.126], "reverse": true, "nice": false, "zero": false}},
                      "y": {"field": "z", "type": "quantitative", "scale": {"domain": [-8.462, 12.569], "reverse": true, "nice": false, "zero": false}},
                      "order": {"field": "i", "type": "quantitative"}}}
      ]
    },
    {
      "layer": [
        {"data": {"name": "gridYZ"}, "mark": {"type": "square"},
         "encoding": {"x": {"field": "a", "type": "quantitative", "scale": {"domain": [-2.462, 44.141], "reverse": true, "nice": false, "zero": false}},
                      "y": {"field": "z", "type": "quantitative", "scale": {"domain": [-8.462, 12.569], "reverse": true, "nice": false, "zero": false}}}},
        {"mark": "rule",
         "encoding": {"x": {"datum": -2, "type": "quantitative", "scale": {"domain": [-2.462, 44.141], "reverse": true, "nice": false, "zero": false}}, "x2": {"datum": 4},
                      "y": {"datum": 0, "type": "quantitative", "scale": {"domain": [-8.462, 12.569], "reverse": true, "nice": false, "zero": false}}}},
        {"mark": "rule",
         "encoding": {"x": {"datum": 0, "type": "quantitative", "scale": {"domain": [-2.462, 44.141], "reverse": true, "nice": false, "zero": false}},
                      "y": {"datum": 0, "type": "quantitative", "scale": {"domain": [-8.462, 12.569], "reverse": true, "nice": false, "zero": false}}, "y2": {"datum": 12}}},
        {"data": {"name": "tS"}, "mark": {"type": "tick", "orient": "vertical"},
         "encoding": {"x": {"field": "t", "type": "quantitative", "scale": {"domain": [-2.462, 44.141], "reverse": true, "nice": false, "zero": false}},
                      "y": {"datum": 0, "type": "quantitative", "scale": {"domain": [-8.462, 12.569], "reverse": true, "nice": false, "zero": false}}}},
        {"data": {"name": "t12"}, "mark": {"type": "tick", "orient": "horizontal"},
         "encoding": {"x": {"datum": 0, "type": "quantitative", "scale": {"domain": [-2.462, 44.141], "reverse": true, "nice": false, "zero": false}},
                      "y": {"field": "t", "type": "quantitative", "scale": {"domain": [-8.462, 12.569], "reverse": true, "nice": false, "zero": false}}}},
        {"data": {"name": "lS"}, "mark": {"type": "text", "dy": -15},
         "encoding": {"x": {"field": "t", "type": "quantitative", "scale": {"domain": [-2.462, 44.141], "reverse": true, "nice": false, "zero": false}},
                      "y": {"datum": 0, "type": "quantitative", "scale": {"domain": [-8.462, 12.569], "reverse": true, "nice": false, "zero": false}},
                      "text": {"field": "t", "type": "quantitative", "format": "d"}}},
        {"data": {"name": "l12"}, "mark": {"type": "text", "align": "left", "dx": 5},
         "encoding": {"x": {"datum": 0, "type": "quantitative", "scale": {"domain": [-2.462, 44.141], "reverse": true, "nice": false, "zero": false}},
                      "y": {"field": "t", "type": "quantitative", "scale": {"domain": [-8.462, 12.569], "reverse": true, "nice": false, "zero": false}},
                      "text": {"field": "t", "type": "quantitative", "format": "d"}}},
        {"mark": {"type": "point", "shape": "triangle-left", "size": 28, "filled": true, "color": "#333", "opacity": 1},
         "encoding": {"x": {"datum": 4, "type": "quantitative", "scale": {"domain": [-2.462, 44.141], "reverse": true, "nice": false, "zero": false}},
                      "y": {"datum": 0, "type": "quantitative", "scale": {"domain": [-8.462, 12.569], "reverse": true, "nice": false, "zero": false}}}},
        {"mark": {"type": "point", "shape": "triangle-down", "size": 28, "filled": true, "color": "#333", "opacity": 1},
         "encoding": {"x": {"datum": 0, "type": "quantitative", "scale": {"domain": [-2.462, 44.141], "reverse": true, "nice": false, "zero": false}},
                      "y": {"datum": 12, "type": "quantitative", "scale": {"domain": [-8.462, 12.569], "reverse": true, "nice": false, "zero": false}}}},
        {"mark": {"type": "text", "dy": -15},
         "encoding": {"x": {"datum": 4, "type": "quantitative", "scale": {"domain": [-2.462, 44.141], "reverse": true, "nice": false, "zero": false}},
                      "y": {"datum": 0, "type": "quantitative", "scale": {"domain": [-8.462, 12.569], "reverse": true, "nice": false, "zero": false}},
                      "text": {"value": "Y"}}},
        {"mark": {"type": "text", "align": "left", "dx": 5},
         "encoding": {"x": {"datum": 0, "type": "quantitative", "scale": {"domain": [-2.462, 44.141], "reverse": true, "nice": false, "zero": false}},
                      "y": {"datum": 12, "type": "quantitative", "scale": {"domain": [-8.462, 12.569], "reverse": true, "nice": false, "zero": false}},
                      "text": {"value": "Z"}}},
        {"data": {"name": "left"}, "mark": {"type": "line", "color": "#229922"},
         "encoding": {"x": {"field": "y", "type": "quantitative", "scale": {"domain": [-2.462, 44.141], "reverse": true, "nice": false, "zero": false}},
                      "y": {"field": "z", "type": "quantitative", "scale": {"domain": [-8.462, 12.569], "reverse": true, "nice": false, "zero": false}},
                      "order": {"field": "i", "type": "quantitative"}}},
        {"mark": {"type": "rule", "color": "#f2e200", "strokeWidth": 2.5, "yOffset": 1.5},
         "encoding": {"x": {"datum": -0.7, "type": "quantitative", "scale": {"domain": [-2.462, 44.141], "reverse": true, "nice": false, "zero": false}}, "x2": {"datum": 0.7},
                      "y": {"datum": 0, "type": "quantitative", "scale": {"domain": [-8.462, 12.569], "reverse": true, "nice": false, "zero": false}}}},
        {"mark": {"type": "rule", "color": "#0000ff", "strokeWidth": 2, "yOffset": -0.5},
         "encoding": {"x": {"datum": -0.7, "type": "quantitative", "scale": {"domain": [-2.462, 44.141], "reverse": true, "nice": false, "zero": false}}, "x2": {"datum": 0.7},
                      "y": {"datum": 0, "type": "quantitative", "scale": {"domain": [-8.462, 12.569], "reverse": true, "nice": false, "zero": false}}}},
        {"mark": {"type": "rule", "color": "#0000ff", "strokeWidth": 2.5},
         "encoding": {"x": {"datum": 0, "type": "quantitative", "scale": {"domain": [-2.462, 44.141], "reverse": true, "nice": false, "zero": false}},
                      "y": {"datum": -0.75, "type": "quantitative", "scale": {"domain": [-8.462, 12.569], "reverse": true, "nice": false, "zero": false}}, "y2": {"datum": 0}}},
        {"mark": {"type": "rule", "color": "#f2e200", "strokeWidth": 2.5},
         "encoding": {"x": {"datum": 0, "type": "quantitative", "scale": {"domain": [-2.462, 44.141], "reverse": true, "nice": false, "zero": false}},
                      "y": {"datum": 0, "type": "quantitative", "scale": {"domain": [-8.462, 12.569], "reverse": true, "nice": false, "zero": false}}, "y2": {"datum": 0.6}}},
        {"data": {"name": "leftT"}, "mark": {"type": "line", "color": "#ff8000", "strokeWidth": 2},
         "encoding": {"x": {"field": "y", "type": "quantitative", "scale": {"domain": [-2.462, 44.141], "reverse": true, "nice": false, "zero": false}},
                      "y": {"field": "z", "type": "quantitative", "scale": {"domain": [-8.462, 12.569], "reverse": true, "nice": false, "zero": false}},
                      "order": {"field": "i", "type": "quantitative"}}}
      ]
    }
  ]
}
